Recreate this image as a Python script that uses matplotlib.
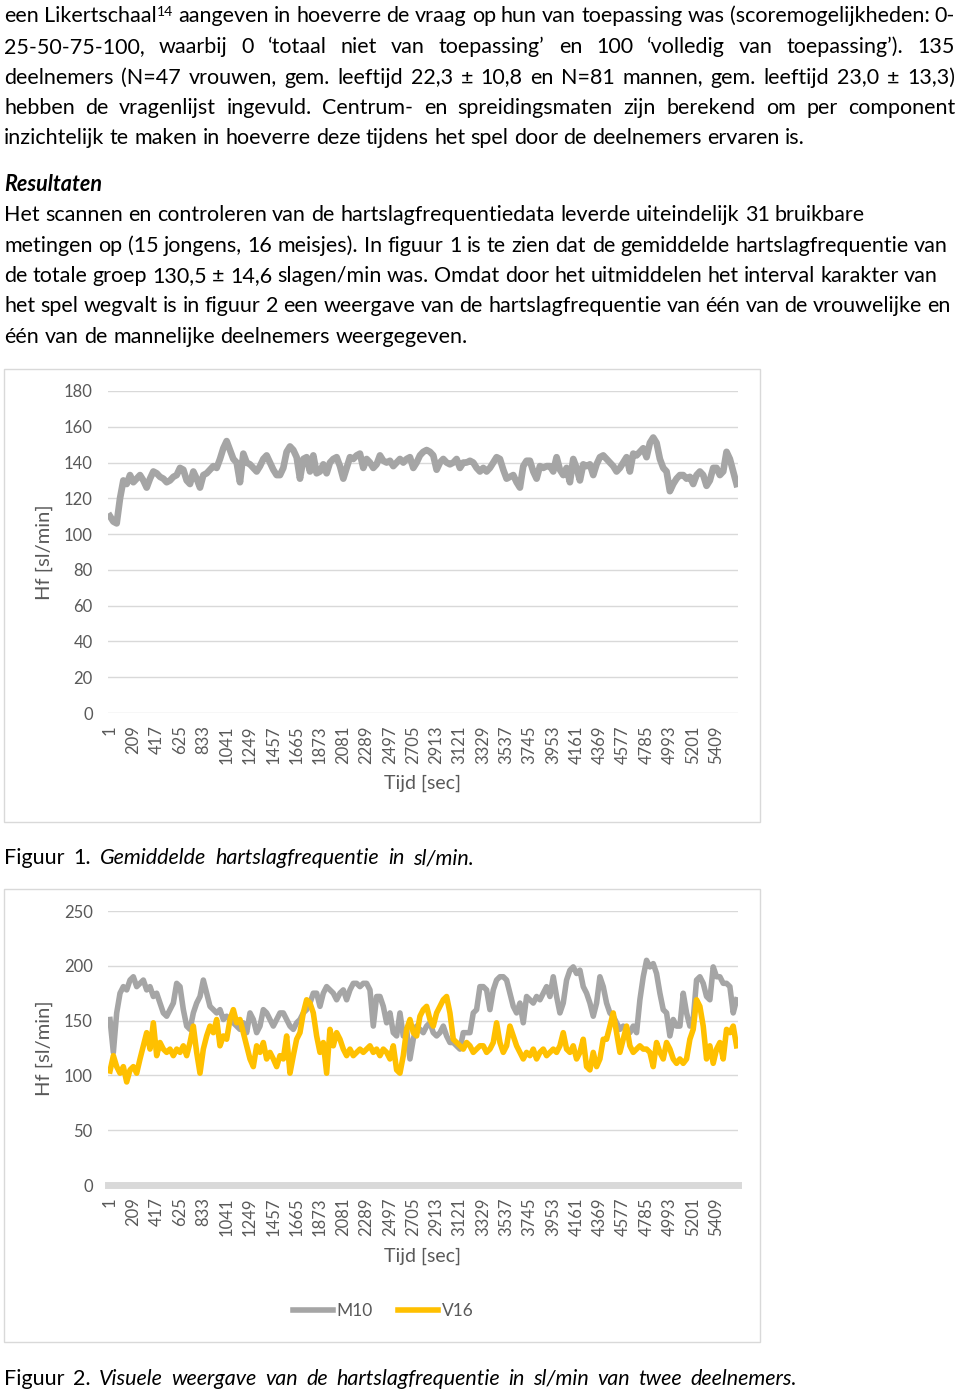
import numpy as np
import matplotlib.pyplot as plt
from matplotlib.patches import Rectangle

W, H = 960, 1392
FONT = ['Lato', 'DejaVu Sans']
plt.rcParams['font.family'] = FONT

GRIJS = '#a5a5a5'
GEEL = '#ffc000'
RASTER = '#d9d9d9'
TEKST = '#595959'

# Figuur 1: gemiddelde hartslagfrequentie, ongeveer elke 30 s
hf_gemiddeld = [
    110, 107, 106, 120, 130, 128, 133, 129, 131, 133,
    130, 126, 131, 135, 134, 132, 131, 129, 130, 132,
    133, 137, 136, 130, 128, 135, 131, 126, 133, 134,
    136, 138, 137, 142, 148, 152, 147, 142, 140, 129,
    145, 140, 139, 137, 135, 138, 142, 144, 140, 136,
    133, 133, 137, 146, 149, 147, 143, 131, 142, 143,
    135, 144, 134,
    135, 139, 134, 140, 142, 143, 138, 131, 137, 143,
    142, 144, 145, 137, 142, 140, 137, 139, 144, 141,
    140, 141, 138, 140, 142, 140, 142, 143, 137, 140,
    144, 146, 147, 146, 144, 136, 140, 142, 140, 139,
    140, 142, 137, 140, 140, 141, 140, 137, 135, 137,
    135, 137, 140, 143, 142, 136, 131, 132, 133, 129,
    126, 138, 141,
    141, 135, 131, 138, 137, 138, 138, 135, 143, 136,
    133, 137, 129, 142, 137, 130, 139, 138, 139, 133,
    139, 143, 144, 142, 140, 138, 135, 137, 140, 143,
    135, 145, 144, 146, 148, 143, 151, 154, 151, 142,
    137, 135, 124, 128, 131, 133, 133, 131, 132, 128,
    133, 135, 133, 127, 130, 137, 137, 133, 135, 146,
    142, 135, 128,
]

# Figuur 2: twee deelnemers
hf_m10 = [
    151, 121, 157, 175, 181, 178, 187, 190, 181, 184,
    187, 178, 181, 172, 175, 166, 157, 154, 160, 166,
    184, 181, 160, 145, 142, 157, 166, 172, 187, 175,
    163, 160, 157, 160, 151, 154, 151, 148, 145, 142,
    148, 139, 157, 151, 139, 145, 160, 157, 151, 145,
    151, 157, 157, 151, 145, 142, 148, 151, 157, 160,
    166, 175, 175, 163, 175, 181, 178, 175, 169, 175,
    178, 169, 178, 184, 184, 181, 184, 184, 178, 145,
    172, 172, 163, 148, 157, 139, 136, 157, 136, 142,
    115, 133, 145, 142, 139, 145, 148, 139, 136, 139,
    145, 136, 130, 130, 127, 124, 139, 139, 139, 157,
    160, 181,
    181, 178, 160, 178, 187, 190, 190, 187, 175, 163,
    157, 166, 148, 172, 169, 166, 172, 169, 175, 181,
    172, 190, 172, 157, 166, 187, 196, 199, 193, 196,
    181, 175, 166, 154, 166, 190, 181, 166, 157, 154,
    148, 142, 145, 142, 139, 145, 139, 169, 190, 205,
    199, 202, 193, 175, 160, 157, 136, 151, 145, 145,
    175, 157, 145, 151, 187, 190, 184, 172, 169, 199,
    190, 190, 184, 184, 181, 157, 169,
]
hf_v16 = [
    104, 118, 108, 102, 108, 94, 105, 108, 102, 115,
    127, 139, 124, 148, 118, 130, 124, 121, 124, 118,
    124, 121, 127, 118, 130, 145, 121, 102, 124, 136,
    145, 139, 151, 127, 136, 133, 151, 160, 148, 151,
    139, 127, 115, 108, 127, 121, 130, 115, 121, 115,
    108, 118, 115, 136, 102, 118, 133, 139, 157, 169,
    166, 157, 136, 121, 130, 102, 142, 127, 139, 133,
    124, 118, 124, 118, 121, 124, 121, 124, 127, 121,
    124, 118, 124, 121, 115, 127, 105, 102, 118, 142,
    151, 139, 136, 154, 160, 163, 151, 145, 157, 163,
    169, 172, 157, 133, 130, 127, 124, 130, 127, 121,
    124, 127,
    127, 121, 124, 130, 148, 130, 121, 127, 145, 136,
    127, 121, 115, 121, 118, 124, 115, 121, 124, 118,
    121, 124, 121, 127, 139, 124, 121, 127, 115, 121,
    133, 108, 105, 121, 108, 115, 133, 133, 145, 157,
    139, 121, 133, 145, 127, 121, 124, 127, 124, 124,
    121, 108, 130, 121, 115, 130, 124, 115, 111, 115,
    111, 115, 133, 142, 169, 163, 145, 115, 127, 111,
    124, 130, 115, 142, 139, 145, 127,
]

tijd_labels = ['1', '209', '417', '625', '833', '1041', '1249', '1457', '1665',
               '1873', '2081', '2289', '2497', '2705', '2913', '3121', '3329',
               '3537', '3745', '3953', '4161', '4369', '4577', '4785', '4993',
               '5201', '5409']
duur = 5590

alinea1 = [
    "een Likertschaal^14 aangeven in hoeverre de vraag op hun van toepassing was (scoremogelijkheden: 0-",
    "25-50-75-100, waarbij 0 ‘totaal niet van toepassing’ en 100 ‘volledig van toepassing’). 135",
    "deelnemers (N=47 vrouwen, gem. leeftijd 22,3 ± 10,8 en N=81 mannen, gem. leeftijd 23,0 ± 13,3)",
    "hebben de vragenlijst ingevuld. Centrum- en spreidingsmaten zijn berekend om per component",
    "inzichtelijk te maken in hoeverre deze tijdens het spel door de deelnemers ervaren is.",
]
alinea2 = [
    "Het scannen en controleren van de hartslagfrequentiedata leverde uiteindelijk 31 bruikbare",
    "metingen op (15 jongens, 16 meisjes). In figuur 1 is te zien dat de gemiddelde hartslagfrequentie van",
    "de totale groep 130,5 ± 14,6 slagen/min was. Omdat door het uitmiddelen het interval karakter van",
    "het spel wegvalt is in figuur 2 een weergave van de hartslagfrequentie van één van de vrouwelijke en",
    "één van de mannelijke deelnemers weergegeven.",
]

GROOTTE = 15.5

fig = plt.figure(figsize=(W / 100, H / 100), dpi=100)
fig.patch.set_facecolor('white')
renderer = fig.canvas.get_renderer()


def fx(x):
    return x / W


def fy(y):
    return 1 - y / H


def breedte(s, size, style='normal', weight='normal'):
    t = fig.text(0, 0, s, fontsize=size, style=style, weight=weight)
    w = t.get_window_extent(renderer).width
    t.remove()
    return w


def regel(woorden, y, x0, x1=None, size=GROOTTE, style='normal', weight='normal'):
    # woorden: lijst van woorden, elk een lijst van (tekst, opties) stukjes
    stukken = []
    for woord in woorden:
        delen = []
        for txt, kw in woord:
            st = kw.get('style', style)
            sz = kw.get('size', size)
            t = fig.text(0, fy(y - kw.get('rise', 0)), txt, fontsize=sz, style=st,
                         weight=weight, va='baseline', ha='left', color='black')
            delen.append((t, t.get_window_extent(renderer).width))
        stukken.append(delen)
    totaal = sum(w for delen in stukken for _, w in delen)
    spatie = breedte('n n', size, style, weight) - breedte('nn', size, style, weight)
    if x1 is not None and len(stukken) > 1:
        spatie = (x1 - x0 - totaal) / (len(stukken) - 1)
    x = x0
    for delen in stukken:
        for t, w in delen:
            t.set_x(fx(x))
            x += w
        x += spatie


def woorden_van(s, style='normal'):
    out = []
    for w in s.split(' '):
        if '^' in w:
            a, b = w.split('^')
            out.append([(a, {'style': style}), (b, {'style': style, 'size': 10, 'rise': 7})])
        else:
            out.append([(w, {'style': style})])
    return out


# alinea 1 (uitgevuld)
basis1 = [22.5, 53, 83.5, 114, 144]
eind1 = [955, 955, 955, 955, 805]
for s, y, e in zip(alinea1, basis1, eind1):
    regel(woorden_van(s), y, 4, e)

regel(woorden_van('Resultaten', 'italic'), 191, 4, weight='bold')

basis2 = [221, 251.5, 282, 312.5, 343]
eind2 = [865, 948, 938, 951, 468]
for s, y, e in zip(alinea2, basis2, eind2):
    regel(woorden_van(s), y, 4, e)

regel([[('Figuur', {})], [('1.', {})]] + woorden_van('Gemiddelde hartslagfrequentie in sl/min.', 'italic'),
      864, 4, 474)
regel([[('Figuur', {})], [('2.', {})]] +
      woorden_van('Visuele weergave van de hartslagfrequentie in sl/min van twee deelnemers.', 'italic'),
      1385, 4, 797)

# kaders rond de grafieken
for top, bodem in [(369, 822), (889, 1342)]:
    fig.add_artist(Rectangle((fx(4), fy(bodem)), 756 / W, (bodem - top) / H,
                             transform=fig.transFigure, fill=False, ec=RASTER, lw=1))


def opmaak(ax, ymax, stap):
    ax.set_ylim(0, ymax)
    ax.set_yticks(np.arange(0, ymax + 1, stap))
    ax.set_xlim(-17, 5603)
    ax.set_xticks([int(l) for l in tijd_labels])
    ax.set_xticklabels(tijd_labels, rotation=90)
    ax.yaxis.grid(True, color=RASTER, lw=1)
    ax.set_axisbelow(True)
    for sp in ax.spines.values():
        sp.set_visible(False)
    ax.tick_params(axis='both', length=0, labelsize=12, labelcolor=TEKST)
    ax.tick_params(axis='y', pad=11)
    ax.tick_params(axis='x', pad=9)


# Figuur 1
ax1 = fig.add_axes([fx(108), fy(713), 630 / W, 322 / H])
t1 = np.linspace(1, duur, len(hf_gemiddeld))
ax1.plot(t1, hf_gemiddeld, color=GRIJS, lw=4.8, solid_joinstyle='round')
opmaak(ax1, 180, 20)
fig.text(fx(44), fy(552), 'Hf [sl/min]', rotation=90, ha='center', va='center',
         fontsize=14.5, color=TEKST)
fig.text(fx(423), fy(783), 'Tijd [sec]', ha='center', va='center', fontsize=14, color=TEKST)

# Figuur 2
ax2 = fig.add_axes([fx(108), fy(1185), 630 / W, 274 / H])
t2 = np.linspace(1, duur, len(hf_m10))
t3 = np.linspace(1, duur, len(hf_v16))
l1, = ax2.plot(t2, hf_m10, color=GRIJS, lw=4, solid_joinstyle='round', label='M10')
l2, = ax2.plot(t3, hf_v16, color=GEEL, lw=4, solid_joinstyle='round', label='V16')
opmaak(ax2, 250, 50)
ax2.axhline(0, color=RASTER, lw=5, zorder=1, clip_on=False)
fig.text(fx(44), fy(1048), 'Hf [sl/min]', rotation=90, ha='center', va='center',
         fontsize=14.5, color=TEKST)
fig.text(fx(423), fy(1256), 'Tijd [sec]', ha='center', va='center', fontsize=14, color=TEKST)
fig.legend(handles=[l1, l2], loc='center', bbox_to_anchor=(fx(383), fy(1311)), ncol=2,
           frameon=False, fontsize=12.5, handlelength=2.3, handletextpad=0.2,
           columnspacing=1.5, labelcolor=TEKST)

fig.savefig('out.png', dpi=100, facecolor='white')
